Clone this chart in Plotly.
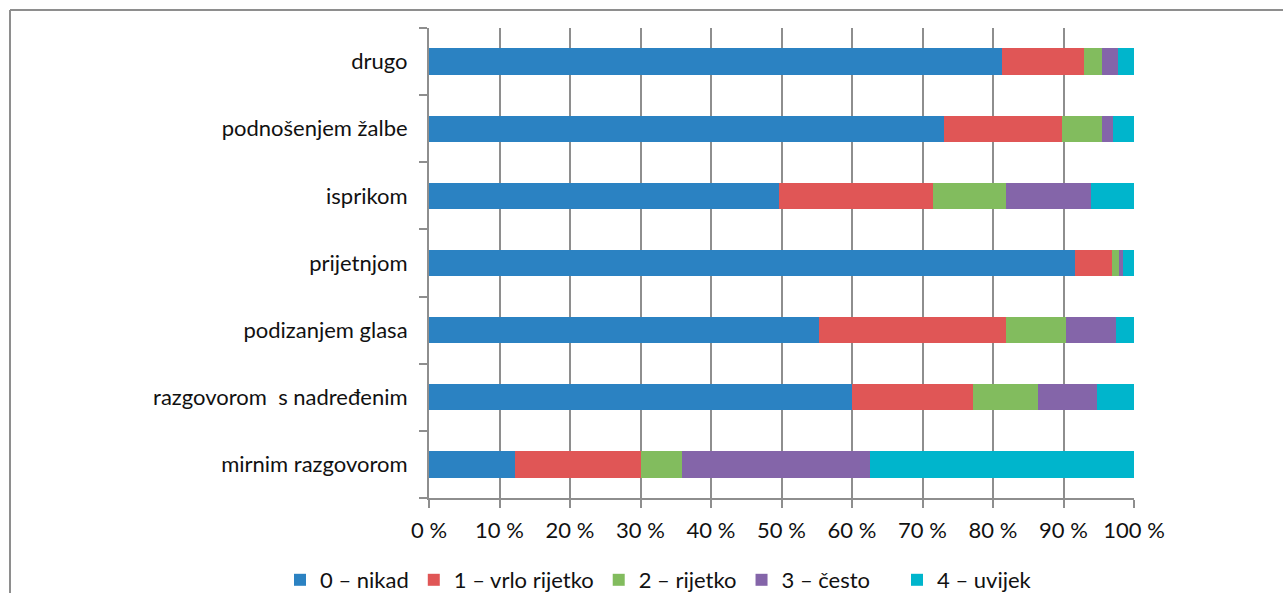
import plotly.graph_objects as go

# Survey responses: how conflicts are resolved, share of answers per frequency level (%)
categories = [
    "mirnim razgovorom",
    "razgovorom\u00a0 s nadređenim",
    "podizanjem glasa",
    "prijetnjom",
    "isprikom",
    "podnošenjem žalbe",
    "drugo",
]

series_names = ["0 – nikad", "1 – vrlo rijetko", "2 – rijetko", "3 – često", "4 – uvijek"]

nikad = [12.2, 60.0, 55.3, 91.7, 49.7, 73.0, 81.3]
vrlo_rijetko = [17.8, 17.1, 26.5, 5.2, 21.8, 16.8, 11.6]
rijetko = [5.9, 9.3, 8.6, 1.0, 10.3, 5.6, 2.5]
cesto = [26.7, 8.4, 7.1, 0.5, 12.1, 1.6, 2.3]
uvijek = [37.4, 5.2, 2.5, 1.6, 6.1, 3.0, 2.3]

series_values = [nikad, vrlo_rijetko, rijetko, cesto, uvijek]
colors = ["#2b82c2", "#e05656", "#82bc5e", "#8465a9", "#00b5cc"]
# the last entry sits a bit further right in its own legend group
legend_ids = ["legend", "legend", "legend", "legend", "legend2"]

FONT = "Lato"
FS = 22
GRID = "#8e8e8e"
TXT = "#111111"

fig = go.Figure()
for name, vals, col, lg in zip(series_names, series_values, colors, legend_ids):
    fig.add_trace(go.Bar(
        y=categories,
        x=vals,
        name=name,
        orientation="h",
        legend=lg,
        marker=dict(color=col, line=dict(width=0)),
    ))

W, H = 1283, 593
L, R, T, B = 429, 149, 28, 95
pw, ph = W - L - R, H - T - B

legend_style = dict(
    orientation="h",
    xanchor="left",
    y=(H - B - 580) / ph,
    yanchor="middle",
    font=dict(family=FONT, size=FS, color=TXT),
    traceorder="normal",
    itemwidth=30,
    bgcolor="rgba(0,0,0,0)",
)

fig.update_layout(
    width=W,
    height=H,
    barmode="stack",
    bargap=0.61,
    plot_bgcolor="white",
    paper_bgcolor="white",
    margin=dict(l=L, r=R, t=T, b=B, autoexpand=False),
    font=dict(family=FONT, size=FS, color=TXT),
    showlegend=True,
    legend=dict(x=(280 - L) / pw, **legend_style),
    legend2=dict(x=(897 - L) / pw, **legend_style),
    xaxis=dict(
        range=[0, 100],
        dtick=10,
        tick0=0,
        ticksuffix=" %",
        showgrid=True,
        gridcolor=GRID,
        gridwidth=2,
        showline=True,
        linecolor=GRID,
        linewidth=2,
        ticks="outside",
        ticklen=8,
        tickwidth=2,
        tickcolor=GRID,
        zeroline=False,
        fixedrange=True,
        ticklabelstandoff=4,
        tickfont=dict(family=FONT, size=FS, color=TXT),
    ),
    yaxis=dict(
        type="category",
        categoryorder="array",
        categoryarray=categories,
        tickson="boundaries",
        showgrid=False,
        showline=True,
        linecolor=GRID,
        linewidth=2,
        ticks="outside",
        ticklen=8,
        tickwidth=2,
        tickcolor=GRID,
        ticklabelstandoff=15,
        fixedrange=True,
        tickfont=dict(family=FONT, size=FS, color=TXT),
    ),
)

# Frame around the chart area (left and top edges)
fx = (10 - L) / pw
fy = 1 + (T - 10) / ph
fig.add_shape(type="line", xref="paper", yref="paper",
              x0=fx, x1=fx, y0=fy, y1=-(B + 5) / ph,
              line=dict(color=GRID, width=2))
fig.add_shape(type="line", xref="paper", yref="paper",
              x0=fx, x1=1 + (R + 5) / pw, y0=fy, y1=fy,
              line=dict(color=GRID, width=2))

fig.write_html("out.html")
